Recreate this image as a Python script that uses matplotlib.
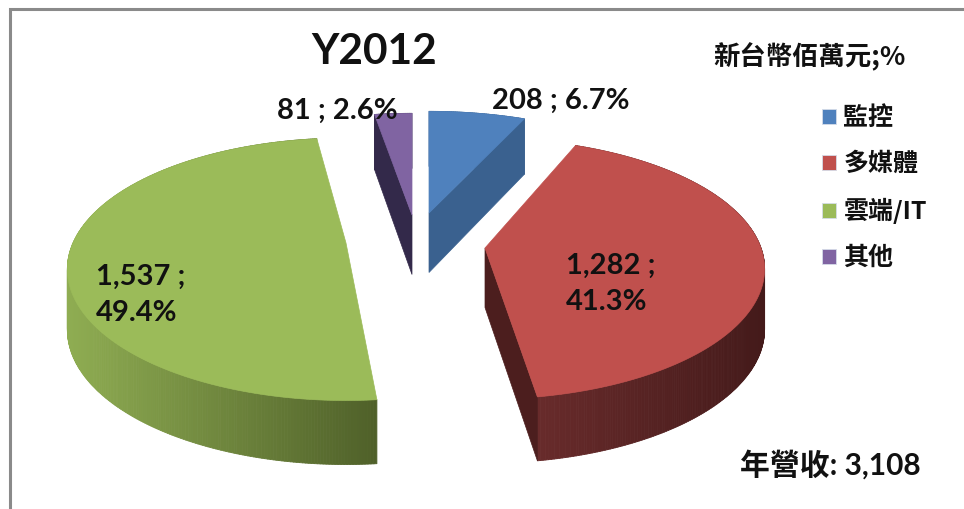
import numpy as np
import matplotlib
matplotlib.use("Agg")
import matplotlib.pyplot as plt
from matplotlib.collections import PolyCollection
from matplotlib.patches import Patch, Polygon
from matplotlib.colors import to_rgb

categories = ["監控", "多媒體", "雲端/IT", "其他"]
values = [208, 1282, 1537, 81]
percents = [6.7, 41.3, 49.4, 2.6]
total_label = "年營收: 3,108"
unit_label = "新台幣佰萬元;%"
title_text = "Y2012"

# styles / layout
top_colors = ["#4F81BD", "#C0504D", "#9BBB59", "#8064A2"]
face_colors = ["#3A618F", "#4C1E1E", "#4F6029", "#33294A"]
wall_left = ["#3A618F", "#682B2B", "#8FAD52", "#33294A"]
wall_right = ["#3A618F", "#441A1A", "#4F6029", "#33294A"]
apexes = [(429, 213), (485, 248), (346, 243), (412, 215)]
radius_x = [276.0, 276.0, 273.0, 276.0]
radius_y = [122.0, 127.0, 126.0, 122.0]
perspective = [0.2, 0.16, 0.2, 0.2]
slice_turn = [0.0, -2.0, 2.0, 0.0]
label_pos = [(561, 101), (566, 284), (96, 295), (337, 111)]
label_breaks = [False, True, True, False]
START = 0.0
CJK = ["Noto Sans CJK TC", "DejaVu Sans"]
NUM = ["Lato", "Noto Sans CJK TC"]

fig = plt.figure(figsize=(9.64, 5.09), dpi=100)
ax = fig.add_axes([0, 0, 1, 1])
ax.set_xlim(0, 964)
ax.set_ylim(509, 0)
ax.axis("off")

# chart frame (top and left edges visible in the crop)
ax.plot([9.5, 9.5, 964], [509, 8.5, 8.5], color="#8A8A8A", lw=2.2, solid_joinstyle="miter")


def project(theta, i):
    t = np.radians(theta)
    X, Y = np.sin(t), np.cos(t)
    d = 1 + perspective[i] * Y
    return apexes[i][0] + radius_x[i] * X / d, apexes[i][1] - radius_y[i] * Y / d


def depth(theta):
    return 59.5 - 4.5 * np.cos(np.radians(theta))


def lerp(c1, c2, t):
    a, b = np.array(to_rgb(c1)), np.array(to_rgb(c2))
    return tuple(a + (b - a) * np.clip(t, 0, 1))


edges = START + np.cumsum([0] + percents) * 3.6
order = [0, 3, 1, 2]
for i in order:
    a0, a1 = edges[i] + slice_turn[i], edges[i + 1] + slice_turn[i]
    th = np.linspace(a0, a1, max(int((a1 - a0) * 2), 4))
    x, y = project(th, i)
    dz = depth(th)
    quads, cols = [], []
    xmin, xmax = x.min(), x.max()
    for j in range(len(th) - 1):
        quads.append([(x[j], y[j]), (x[j + 1], y[j + 1]),
                      (x[j + 1], y[j + 1] + dz[j + 1]), (x[j], y[j] + dz[j])])
        cols.append(lerp(wall_left[i], wall_right[i], ((x[j] + x[j + 1]) / 2 - xmin) / (xmax - xmin)))
    ax.add_collection(PolyCollection(quads, facecolors=cols, edgecolors=cols, linewidths=0.6,
                                     zorder=2 + order.index(i)))
    apex = apexes[i]
    ad = 59.5
    for edge_th, visible in ((a1, -np.sin(np.radians(a1)) < -0.02), (a0, np.sin(np.radians(a0)) < -0.02)):
        if visible:
            ex, ey = project(edge_th, i)
            ed = depth(edge_th)
            ax.add_patch(Polygon([apex, (ex, ey), (ex, ey + ed), (apex[0], apex[1] + ad)],
                                 closed=True, facecolor=face_colors[i], edgecolor=face_colors[i],
                                 lw=0.5, zorder=2.3 + order.index(i)))
    ax.add_patch(Polygon(np.vstack([[apex], np.column_stack([x, y])]), closed=True,
                         facecolor=top_colors[i], edgecolor=top_colors[i], lw=0.5,
                         zorder=2.6 + order.index(i)))

# data labels
for i, (v, p) in enumerate(zip(values, percents)):
    if label_breaks[i]:
        ax.text(label_pos[i][0], label_pos[i][1], f"{v:,} ;\n{p:.1f}%", family=NUM, weight="bold",
                fontsize=21, ha="left", va="center", color="#111111", linespacing=1.45, zorder=10)
    else:
        ax.text(label_pos[i][0], label_pos[i][1], f"{v:,} ; {p:.1f}%", family=NUM, weight="bold",
                fontsize=21, ha="center", va="center", color="#111111", zorder=10)

ax.text(374, 52, title_text, family=NUM, weight="bold", fontsize=30.5, ha="center", va="center", color="#111111")
ax.text(810, 57, unit_label, family=CJK, weight="bold", fontsize=19, ha="center", va="center", color="#111111")
ax.text(830, 465, total_label, family=NUM, weight="bold", fontsize=21.5, ha="center", va="center", color="#111111")

handles = [Patch(facecolor=c, edgecolor="#D5DCE8", lw=0.6) for c in top_colors]
leg = ax.legend(handles, categories, loc="upper left", bbox_to_anchor=(822 / 964, 1 - 106 / 509),
                frameon=False, prop={"family": CJK, "size": 18, "weight": "bold"}, labelspacing=0.88,
                handlelength=0.56, handleheight=0.56, handletextpad=0.3,
                borderpad=0, borderaxespad=0)
for t in leg.get_texts():
    t.set_color("#111111")

fig.savefig("out.png", dpi=100, facecolor="white")
